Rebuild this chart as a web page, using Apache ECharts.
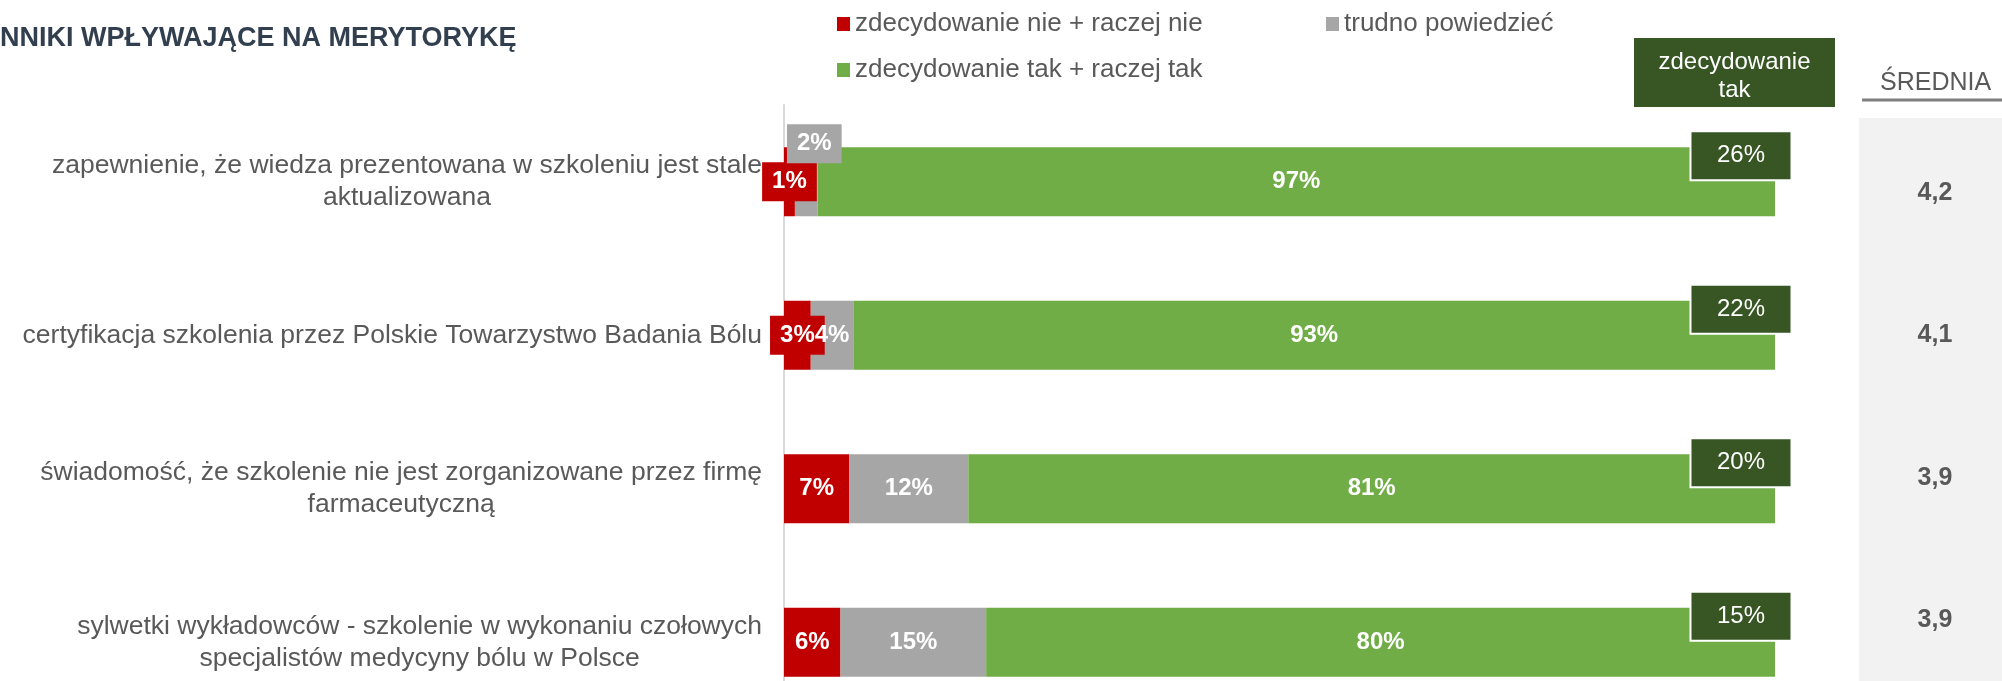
<!DOCTYPE html>
<html>
<head>
<meta charset="utf-8">
<script src="https://cdn.jsdelivr.net/npm/echarts@6/dist/echarts.min.js"></script>
<style>
  html, body { margin: 0; padding: 0; background: #fff; overflow: hidden; }
  /* wykres jest przycięty od dołu, tak jak w oryginale */
  #chart { width: 2002px; height: 720px; }
</style>
</head>
<body>
<div id="chart"></div>
<script>
// data
const categories = [
  'zapewnienie, że wiedza prezentowana w szkoleniu jest stale\naktualizowana',
  'certyfikacja szkolenia przez Polskie Towarzystwo Badania Bólu',
  'świadomość, że szkolenie nie jest zorganizowane przez firmę\nfarmaceutyczną',
  'sylwetki wykładowców - szkolenie w wykonaniu czołowych\nspecjalistów medycyny bólu w Polsce'
]
const seriesNames = ['zdecydowanie nie + raczej nie', 'trudno powiedzieć', 'zdecydowanie tak + raczej tak']
const negShare = [1.1, 2.7, 6.6, 5.7] // zdecydowanie nie + raczej nie
const neutralShare = [2.3, 4.3, 12.0, 14.7] // trudno powiedzieć
const posShare = [96.6, 93.0, 81.4, 79.6] // zdecydowanie tak + raczej tak
const strongYes = [26, 22, 20, 15] // zdecydowanie tak
const averages = [4.2, 4.1, 3.9, 3.9]

const RED = '#c00000'
const GREY = '#a6a6a6'
const GREEN = '#70ad47'
const DARK_GREEN = '#375623'
const TEXT = '#595959'
const FONT = '"Liberation Sans", Arial, sans-serif'

const chart = echarts.init(document.getElementById('chart'))

const pct = p => Math.round(p.value) + '%'
const boxed = (color, offset) => ({
  backgroundColor: color,
  padding: [5, 10],
  lineHeight: 29,
  offset: offset || [0, 0]
})

const negData = negShare.map(v => v < 5 ? { value: v, label: boxed(RED) } : v)
const neutralData = neutralShare.map(v => v < 3 ? { value: v, label: boxed(GREY, [8, -38]) } : v)
const strongData = strongYes.map((v, i) => [negShare[i] + neutralShare[i] + posShare[i], i, v])

const barLabel = {
  show: true,
  color: '#fff',
  fontWeight: 'bold',
  fontSize: 24,
  formatter: pct
}

chart.setOption({
  backgroundColor: '#fff',
  textStyle: { fontFamily: FONT },
  animation: false,
  title: {
    text: 'NNIKI WPŁYWAJĄCE NA MERYTORYKĘ',
    left: 0,
    top: 25,
    padding: 0,
    textStyle: { fontSize: 27, fontWeight: 'bold', color: '#323f4f', fontFamily: FONT }
  },
  legend: [
    { data: [seriesNames[0]], left: 837, top: 11 },
    { data: [seriesNames[1]], left: 1326, top: 11 },
    { data: [seriesNames[2]], left: 837, top: 57 }
  ].map(l => Object.assign(l, {
    padding: 0,
    icon: 'rect',
    itemWidth: 13,
    itemHeight: 14,
    itemGap: 5,
    textStyle: { fontSize: 26, color: TEXT, fontFamily: FONT }
  })),
  grid: [
    { left: 784, width: 991, top: 105, height: 614 },
    { left: 1859, right: 0, top: 122, height: 569 }
  ],
  xAxis: [
    { type: 'value', min: 0, max: 100, show: false, gridIndex: 0 },
    { type: 'value', min: 0, max: 1, show: false, gridIndex: 1 }
  ],
  yAxis: [
    {
      type: 'category',
      gridIndex: 0,
      inverse: true,
      data: categories,
      axisLine: { lineStyle: { color: '#d9d9d9', width: 2 } },
      axisTick: { show: false },
      axisLabel: {
        interval: 0,
        margin: 22,
        formatter: v => v.split('\n').map(s => '{c|' + s + '}').join('\n'),
        rich: {
          c: { align: 'center', fontSize: 26.5, lineHeight: 32, color: TEXT, fontFamily: FONT }
        }
      }
    },
    {
      type: 'category',
      gridIndex: 1,
      inverse: true,
      data: averages.map(v => v.toFixed(1).replace('.', ',')),
      axisLine: { show: false },
      axisTick: { show: false },
      axisLabel: {
        interval: 0,
        margin: -76,
        align: 'center',
        fontSize: 25,
        fontWeight: 'bold',
        color: TEXT
      }
    }
  ],
  graphic: [
    // szare tło kolumny ze średnimi
    { type: 'rect', z: -10, shape: { x: 1859, y: 118, width: 143, height: 602 }, style: { fill: '#f2f2f2' } },
    { type: 'text', x: 1880, y: 83, style: { text: 'ŚREDNIA', fontSize: 25, fontFamily: FONT, fill: TEXT, verticalAlign: 'middle' } },
    { type: 'line', shape: { x1: 1862, y1: 100, x2: 2002, y2: 100 }, style: { stroke: '#7f7f7f', lineWidth: 3 } },
    // nagłówek "zdecydowanie tak"
    { type: 'rect', shape: { x: 1634, y: 38, width: 201, height: 69 }, style: { fill: DARK_GREEN } },
    {
      type: 'text', x: 1734.5, y: 76,
      style: { text: 'zdecydowanie\ntak', fontSize: 24, lineHeight: 28, fontFamily: FONT, fill: '#fff', align: 'center', verticalAlign: 'middle' }
    }
  ],
  series: [
    {
      name: seriesNames[0], type: 'bar', stack: 'total', barWidth: 69,
      itemStyle: { color: RED }, label: barLabel, data: negData
    },
    {
      name: seriesNames[1], type: 'bar', stack: 'total', barWidth: 69,
      itemStyle: { color: GREY }, label: barLabel, data: neutralData
    },
    {
      name: seriesNames[2], type: 'bar', stack: 'total', barWidth: 69,
      itemStyle: { color: GREEN }, label: barLabel, data: posShare
    },
    {
      name: 'zdecydowanie tak', type: 'scatter', z: 5,
      symbolSize: 1,
      itemStyle: { color: 'rgba(0,0,0,0)', opacity: 1 },
      label: {
        show: true,
        position: 'inside',
        offset: [-34, -26],
        formatter: p => p.value[2] + '%',
        color: '#fff',
        fontSize: 24,
        opacity: 1,
        backgroundColor: DARK_GREEN,
        borderColor: '#fff',
        borderWidth: 2,
        width: 99,
        height: 47,
        lineHeight: 47,
        align: 'center',
        verticalAlign: 'middle'
      },
      data: strongData
    }
  ]
})
</script>
</body>
</html>
